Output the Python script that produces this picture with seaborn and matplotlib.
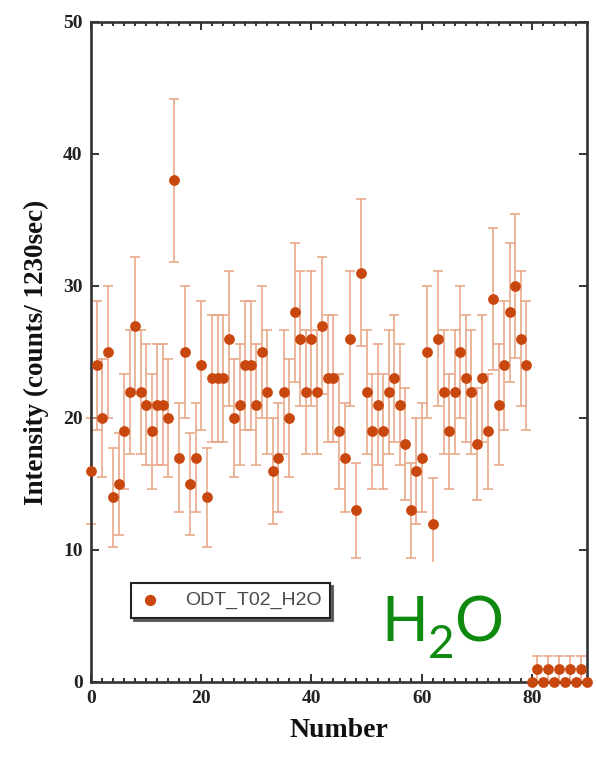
import numpy as np
import pandas as pd
import matplotlib
matplotlib.use("Agg")
import matplotlib.pyplot as plt
from matplotlib.ticker import MultipleLocator
from matplotlib.patches import Rectangle
import seaborn as sns

# Measured counts per run (ODT_T02_H2O), runs 0..79, then the blank runs 80..90
counts_main = [16, 24, 20, 25, 14, 15, 19, 22, 27, 22,
               21, 19, 21, 21, 20, 38, 17, 25, 15, 17,
               24, 14, 23, 23, 23, 26, 20, 21, 24, 24,
               21, 25, 22, 16, 17, 22, 20, 28, 26, 22,
               26, 22, 27, 23, 23, 19, 17, 26, 13, 31,
               22, 19, 21, 19, 22, 23, 21, 18, 13, 16,
               17, 25, 12, 26, 22, 19, 22, 25, 23, 22,
               18, 23, 19, 29, 21, 24, 28, 30, 26, 24]
counts_blank = [0, 1, 0, 1, 0, 1, 0, 1, 0, 1, 0]
series_label = "ODT_T02_H2O"
x_ticks = [0, 20, 40, 60, 80]
y_ticks = [0, 10, 20, 30, 40, 50]

counts = np.array(counts_main + counts_blank, dtype=float)
df = pd.DataFrame({"Number": np.arange(len(counts)), "Intensity": counts})
df["err"] = np.sqrt(df["Intensity"])  # Poisson counting error

sns.set_theme(style="ticks")
plt.rcParams["font.family"] = ["Liberation Serif", "DejaVu Serif"]

fig = plt.figure(figsize=(5.96, 7.57), dpi=100)
ax = fig.add_axes([91 / 596, 1 - 682 / 757, 496 / 596, 660 / 757])

dot = "#c8470e"
bar = "#e8a585"

ax.errorbar(df["Number"], df["Intensity"], yerr=df["err"], fmt="none",
            ecolor=bar, elinewidth=1.15, capsize=3.6, capthick=1.15,
            zorder=2, clip_on=False)
sns.scatterplot(data=df, x="Number", y="Intensity", ax=ax, color=dot,
                s=60, linewidth=0, label=series_label, zorder=3,
                clip_on=False)

ax.set_xlim(0, 90)
ax.set_ylim(0, 50)
ax.set_xticks(x_ticks)
ax.set_yticks(y_ticks)
ax.xaxis.set_minor_locator(MultipleLocator(2))

spine_c = "#333333"
for s in ax.spines.values():
    s.set_color(spine_c)
    s.set_linewidth(1.9)
ax.tick_params(which="both", direction="in", top=True, right=True,
               color=spine_c, width=1.4)
ax.tick_params(which="major", length=6, pad=6, labelsize=14)
ax.tick_params(which="minor", length=3)
for lab in ax.get_xticklabels() + ax.get_yticklabels():
    lab.set_fontweight("bold")
    lab.set_color("#222222")

ax.set_xlabel("Number", fontsize=20, fontweight="bold", color="#111111",
              labelpad=8)
ax.set_ylabel("Intensity (counts/ 1230sec)", fontsize=19.5,
              fontweight="bold", color="#111111", labelpad=10)

leg = ax.legend(loc="lower left", bbox_to_anchor=(0.062, 0.082),
                frameon=True, fancybox=False, borderpad=0.45,
                handlelength=1.0, handletextpad=1.3, markerscale=1.05,
                prop={"family": "Liberation Sans", "size": 14},
                shadow={"color": "0.3", "alpha": 0.85})
leg.get_frame().set_edgecolor("#222222")
leg.get_frame().set_linewidth(1.5)
for t in leg.get_texts():
    t.set_color("#4a4a4a")

# White panel with the sample name
fig.patches.append(Rectangle((362 / 596, 1 - 672 / 757), 150 / 596,
                             110 / 757, transform=fig.transFigure,
                             facecolor="white", edgecolor="none", zorder=5))
green = "#0f8a0f"
fig.text(381 / 596, 1 - 641 / 757, "H", fontsize=44, color=green,
         family="Lato", va="baseline", ha="left", zorder=6)
fig.text(428 / 596, 1 - 658 / 757, "2", fontsize=33, color=green,
         family="Lato", va="baseline", ha="left", zorder=6)
fig.text(454 / 596, 1 - 641 / 757, "O", fontsize=44, color=green,
         family="Lato", va="baseline", ha="left", zorder=6)

fig.savefig("out.png", dpi=100)
